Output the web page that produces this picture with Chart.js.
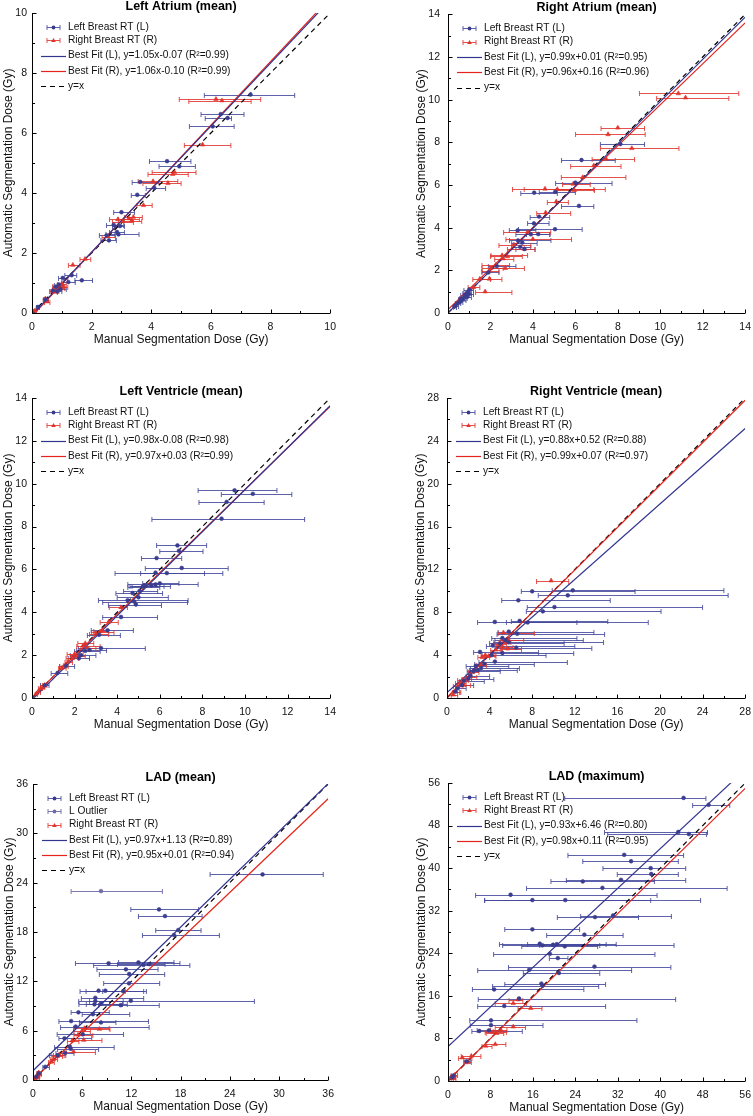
<!DOCTYPE html>
<html>
<head>
<meta charset="utf-8">
<script src="https://cdn.jsdelivr.net/npm/chart.js@4.4.1/dist/chart.umd.min.js"></script>
<style>
body { margin: 0; background: #fff; width: 753px; height: 1116px; position: relative; overflow: hidden; }
canvas { position: absolute; }
</style>
</head>
<body>
<canvas id="la"></canvas>
<canvas id="ra"></canvas>
<canvas id="lv"></canvas>
<canvas id="rv"></canvas>
<canvas id="ladMean"></canvas>
<canvas id="ladMax"></canvas>
<script>
// each point: [manual dose, automatic dose, manual lower, manual upper]
var laLeft = [[7.33,7.28,5.78,8.81],[6.33,6.63,5.67,7.11],[6.56,6.5,5.81,6.69],[6.06,6.22,5.28,6.78],
  [4.53,5.06,3.94,5.33],[4.94,4.89,4.26,5.48],[3.63,4.37,3.36,4.26],[4.1,4.17,3.83,4.48],[3.53,3.94,3.33,3.8],
  [3.0,3.36,2.74,3.44],[2.74,2.94,2.5,3.08],[2.95,2.9,2.7,3.1],[2.85,2.7,2.6,3.1],[2.9,2.62,2.48,3.59],
  [2.5,2.59,2.26,2.78],[2.58,2.42,2.31,2.83],[1.67,1.09,1.44,2.03],[1.33,1.26,1.1,1.5],[1.03,1.17,0.89,1.2],
  [1.22,1.03,1.0,1.45],[0.9,0.95,0.75,1.05],[0.8,0.88,0.7,0.95],[0.95,0.8,0.8,1.15],[0.7,0.75,0.6,0.85],
  [0.85,0.72,0.72,1.0],[0.45,0.45,0.38,0.55],[0.2,0.2,0.15,0.25]];
var laRight = [[6.17,7.13,4.94,7.67],[6.37,7.08,5.26,7.35],[5.72,5.61,5.11,6.67],[4.78,4.69,4.03,5.5],
  [4.72,4.63,3.89,5.24],[4.06,4.39,3.56,4.89],[4.56,4.33,3.72,5.0],[3.74,3.59,3.52,4.03],[2.88,3.12,2.6,3.3],
  [3.25,3.15,2.9,3.6],[3.4,3.2,3.1,3.7],[3.05,3.05,2.7,3.4],[3.35,3.08,3.0,3.68],[2.55,2.55,2.35,2.8],
  [1.78,1.8,1.61,1.97],[1.37,1.6,1.22,1.61],[1.0,0.98,0.85,1.15],[0.9,0.9,0.7,1.1],[0.95,0.85,0.75,1.1],
  [1.05,0.88,0.9,1.2],[0.7,0.75,0.6,0.9],[0.75,0.7,0.65,0.85],[0.85,0.8,0.7,1.0],[0.45,0.48,0.38,0.55],
  [0.5,0.38,0.42,0.6],[0.1,0.08,0.05,0.15]];
var laFitL = [[0,-0.07],[10,10.43]];
var laFitR = [[0,-0.10],[10,10.50]];

var raLeft = [[8.12,7.92,7.18,9.26],[6.29,7.17,5.35,7.88],[6.0,6.11,5.07,7.73],[4.06,5.64,3.43,5.15],
  [5.05,5.68,4.3,6.0],[6.17,5.02,5.35,6.87],[4.29,4.52,3.87,4.79],[4.05,4.2,3.75,4.76],[5.04,3.93,3.32,6.32],
  [3.28,3.87,2.89,4.14],[3.9,3.69,3.2,4.8],[4.25,3.7,3.7,4.8],[3.5,3.3,3.0,4.2],[3.4,3.1,3.0,3.9],
  [3.6,3.0,3.2,4.1],[3.3,3.4,2.9,4.85],[2.3,2.2,1.9,3.2],[1.9,1.9,1.6,2.4],[1.0,1.1,0.75,1.2],
  [0.9,0.95,0.7,1.1],[0.8,0.85,0.6,1.0],[0.7,0.7,0.55,0.9],[0.65,0.6,0.5,0.85],[0.55,0.5,0.45,0.7],
  [0.45,0.45,0.35,0.6],[0.35,0.35,0.3,0.5],[0.9,0.75,0.75,1.1],[1.0,0.9,0.85,1.2],[0.6,0.65,0.5,0.8],
  [0.3,0.3,0.25,0.4]];
var raRight = [[10.85,10.29,9.02,13.7],[11.19,10.09,9.83,13.23],[8.0,8.68,7.21,9.26],[7.54,8.37,6.01,9.29],
  [8.66,7.72,7.18,10.88],[7.45,7.22,6.79,8.79],[6.87,6.91,5.78,8.15],[6.35,6.36,5.34,8.38],[5.9,6.05,5.4,6.7],
  [4.57,5.82,3.59,6.87],[5.15,5.8,3.04,7.41],[5.95,5.75,5.1,6.9],[5.1,5.22,4.68,5.67],[4.6,4.7,4.18,5.78],
  [3.75,3.8,2.62,4.84],[4.0,3.46,2.73,5.82],[3.1,3.2,2.4,3.9],[3.6,3.0,2.8,4.1],[2.55,2.7,2.03,3.75],
  [2.8,2.65,2.0,3.5],[2.6,2.55,2.2,3.1],[2.25,2.25,1.6,2.9],[2.0,2.1,1.6,2.6],[2.7,2.1,2.0,3.6],
  [1.95,1.95,1.6,2.4],[1.5,1.6,1.17,2.0],[1.95,1.6,1.5,2.54],[1.75,1.0,1.3,3.01],[1.2,1.2,0.95,1.5]];
var raFitL = [[0,0.01],[14,13.87]];
var raFitR = [[0,0.16],[14,13.60]];

var lvLeft = [[9.51,9.69,7.8,11.5],[10.37,9.53,8.89,12.2],[9.14,9.15,7.84,10.9],[8.9,8.37,5.63,12.8],
  [6.83,7.12,5.85,8.2],[6.9,6.87,6.0,8.03],[5.85,6.53,5.14,7.03],[7.03,6.07,5.32,9.21],[6.33,5.83,3.9,8.96],
  [5.8,5.85,5.1,8.1],[6.0,5.35,5.2,6.9],[5.3,5.25,4.6,6.2],[5.6,5.25,4.7,6.5],[5.2,5.2,4.5,6.0],
  [5.8,5.3,4.5,7.8],[4.72,4.9,3.94,6.13],[5.05,5.0,4.3,5.9],[5.0,4.7,4.0,6.4],[4.49,4.56,3.12,7.33],
  [4.8,4.5,3.32,7.3],[4.88,4.36,3.59,6.08],[4.18,3.78,3.32,5.89],[3.55,3.16,2.78,4.76],[3.15,2.95,2.6,4.15],
  [3.24,2.33,2.18,5.32],[2.7,2.25,2.1,3.5],[2.5,2.2,2.0,3.2],[2.3,2.0,1.8,3.0],[2.2,1.85,1.7,2.7],
  [1.2,1.17,0.9,1.68],[1.6,1.5,1.3,2.0],[0.6,0.6,0.4,0.8]];
var lvRight = [[4.18,4.23,3.63,4.48],[3.6,3.55,3.2,4.05],[3.2,3.1,2.8,3.85],[3.0,3.0,2.7,3.6],
  [3.3,3.15,2.9,3.6],[2.5,2.55,2.15,2.9],[2.4,2.45,2.1,3.2],[2.6,2.35,2.3,3.0],[2.0,2.05,1.65,2.4],
  [2.1,1.95,1.8,2.5],[1.9,1.85,1.6,2.2],[1.7,1.7,1.55,1.9],[1.5,1.5,1.3,1.7],[1.4,1.4,1.25,1.6],
  [0.6,0.6,0.5,0.7],[0.5,0.5,0.4,0.6],[0.4,0.45,0.3,0.5],[0.3,0.3,0.25,0.4],[0.2,0.2,0.15,0.25]];
var lvFitL = [[0,-0.08],[14,13.64]];
var lvFitR = [[0,0.03],[14,13.61]];

var rvLeft = [[8.0,9.96,6.98,17.66],[11.81,10.05,9.88,26.0],[11.34,9.58,8.57,26.4],[6.7,9.12,5.14,15.33],
  [10.09,8.49,7.54,24.0],[9.0,8.09,7.45,20.1],[4.49,7.1,2.87,12.2],[6.82,7.2,6.04,15.1],[7.57,7.05,5.58,18.9],
  [5.8,6.2,4.8,13.8],[6.6,6.0,4.7,14.8],[5.2,5.6,4.2,12.2],[5.5,5.4,4.5,12.8],[5.8,5.2,4.4,14.7],
  [5.0,5.1,4.0,11.0],[4.3,4.9,3.7,12.0],[6.5,4.7,4.5,13.6],[3.1,4.3,2.5,8.6],[5.2,4.2,4.2,11.9],
  [4.2,4.0,3.3,9.3],[4.5,3.4,3.0,11.3],[3.5,3.2,2.6,8.2],[2.7,3.0,1.8,5.8],[3.2,2.8,2.2,6.8],
  [2.9,2.6,2.1,6.6],[2.5,2.5,1.9,5.0],[2.2,2.1,1.8,4.0],[2.0,1.8,1.6,4.4],[1.6,1.6,1.2,3.5],
  [1.4,1.2,1.0,2.5],[1.0,0.9,0.8,1.8],[0.8,0.6,0.6,1.2]];
var rvRight = [[9.78,10.95,8.41,11.43],[5.3,6.1,4.8,8.2],[5.8,5.4,5.0,7.2],[5.5,5.2,4.9,6.0],
  [4.8,5.0,4.4,5.6],[5.7,4.6,5.0,7.0],[5.2,4.8,4.6,6.2],[4.6,4.5,4.1,5.2],[3.6,4.0,3.2,4.5],
  [3.3,3.8,2.9,4.0],[3.9,3.9,3.5,4.6],[3.2,3.1,2.8,3.7],[2.4,2.4,2.0,3.0],[2.2,2.0,1.8,2.8],
  [1.8,1.8,1.4,2.3],[1.5,1.7,1.0,2.0],[1.2,1.4,0.8,1.8],[1.0,1.1,0.6,1.5],[0.8,0.6,0.5,1.3],
  [0.6,0.3,0.4,1.0],[1.6,1.2,1.2,2.2]];
var rvFitL = [[0,0.52],[28,25.16]];
var rvFitR = [[0,0.07],[28,27.79]];

var ladMeanLeft = [[28.0,25.0,21.6,35.4],[15.37,20.75,11.93,20.2],[16.1,19.94,12.86,20.63],
  [17.72,18.24,14.97,20.5],[17.2,17.63,13.35,22.73],[9.22,14.19,5.18,17.92],[12.86,14.3,10.44,17.2],
  [13.47,14.0,7.4,19.13],[14.2,14.1,10.3,16.1],[11.33,13.46,7.8,15.25],[11.73,12.89,8.09,16.06],
  [11.7,11.76,8.62,15.45],[8.0,10.86,5.74,13.83],[8.82,10.86,6.47,11.25],[11.0,10.8,8.5,13.5],
  [7.6,10.0,5.9,13.5],[11.93,9.65,5.58,27.0],[7.6,9.6,6.9,11.0],[7.5,9.2,5.6,10.9],[10.7,9.1,8.0,15.4],
  [8.3,9.3,6.5,11.5],[5.54,8.23,4.65,9.3],[7.3,8.0,6.0,11.8],[4.65,7.17,3.16,14.08],[8.29,7.0,5.66,10.11],
  [5.2,6.5,3.36,14.16],[6.07,5.55,2.95,11.04],[3.84,5.07,3.16,7.16],[4.5,4.05,2.63,9.9],[4.6,3.8,3.0,8.0],
  [3.9,3.3,2.8,5.0],[3.0,3.0,2.0,4.0],[1.5,1.6,1.2,2.0],[0.7,0.8,0.5,1.0],[0.4,0.4,0.3,0.6]];
var ladMeanOutlier = [[8.29,22.98,4.65,15.78]];
var ladMeanRight = [[6.27,6.28,4.94,9.3],[8.09,6.2,6.39,9.39],[6.0,6.0,5.0,7.0],[6.19,4.86,4.77,8.41],
  [4.94,3.45,4.05,7.61],[5.5,5.5,5.0,7.3],[4.8,4.8,4.2,5.6],[3.2,3.1,2.5,3.8],[3.0,2.9,2.3,3.6],
  [2.5,2.5,2.1,3.0],[2.2,2.2,1.9,2.6],[0.8,0.7,0.6,1.0],[0.7,0.9,0.5,1.0],[0.5,0.5,0.4,0.7],
  [0.3,0.3,0.2,0.4],[0.6,0.4,0.4,0.8]];
var ladMeanFitL = [[0,1.13],[36,36.05]];
var ladMeanFitR = [[0,0.01],[36,34.21]];

var ladMaxLeft = [[44.4,53.2,22.0,48.6],[49.1,51.9,46.1,53.1],[43.4,46.8,29.5,48.9],[45.4,46.4,30.1,48.7],
  [33.2,42.5,22.6,44.4],[34.5,41.3,25.4,43.4],[38.2,40.0,29.2,44.8],[38.3,38.9,31.9,43.4],
  [32.6,37.8,22.3,44.8],[25.4,37.5,19.4,38.9],[29.1,36.3,14.8,52.6],[11.8,35.0,5.2,39.4],
  [15.9,34.0,6.9,38.2],[22.1,34.0,6.9,47.6],[27.7,30.8,20.6,35.9],[31.1,31.1,25.0,42.1],
  [15.9,28.5,10.7,24.8],[25.7,27.5,18.6,33.0],[17.3,25.8,9.7,31.7],[19.8,25.6,10.3,42.6],
  [22.0,25.3,13.9,28.2],[17.8,25.5,17.3,28.6],[20.5,25.7,15.0,29.8],[19.2,23.9,8.6,39.0],
  [20.7,23.1,19.1,22.6],[27.6,21.5,11.4,42.0],[15.3,20.9,5.6,34.6],[20.9,20.3,14.2,28.6],
  [17.6,18.3,10.7,29.7],[17.8,17.9,8.4,28.4],[8.7,17.2,4.6,25.6],[13.4,15.5,5.7,42.9],
  [10.6,14.1,5.6,29.7],[8.1,11.4,4.1,35.6],[8.1,10.5,4.2,17.9],[5.9,9.4,4.5,14.0],[7.7,9.5,5.5,9.9],
  [3.5,3.7,3.0,4.2],[1.0,1.0,0.6,1.4],[0.8,0.7,0.5,1.1]];
var ladMaxRight = [[13.2,15.3,11.5,14.1],[12.3,14.6,8.9,14.8],[15.6,13.7,13.2,17.7],[12.3,10.2,8.9,14.6],
  [8.5,9.2,7.0,11.0],[9.2,9.0,7.2,10.5],[10.0,9.5,8.0,11.1],[8.9,6.9,7.1,10.9],[7.1,6.6,6.4,8.3],
  [4.4,4.7,2.5,6.2],[2.7,4.4,2.0,4.5],[3.7,3.5,3.0,4.4],[1.2,1.1,0.6,1.8],[0.9,0.8,0.5,1.4],
  [1.0,0.5,0.6,1.5],[0.5,0.6,0.2,1.0]];
var ladMaxFitL = [[0,6.46],[56,58.54]];
var ladMaxFitR = [[0,0.11],[56,55.0]];

var FONT = '"Liberation Sans", Arial, Helvetica, sans-serif';
var BLUE = '#3a3d8f', BLUE_BAR = 'rgba(66,70,156,0.85)';
var PURPLE = '#6d6aa6', PURPLE_BAR = 'rgba(109,106,166,0.9)';
var RED = '#e1342b', RED_BAR = 'rgba(224,52,43,0.85)';
var FIT_BLUE = '#33348f', FIT_RED = '#e3241c';

function pts(arr) {
    return arr.map(function (p) { return {x: p[0], y: p[1]}; });
}

function errSet(label, arr, color, barColor, style) {
    return {
        label: label, data: pts(arr), kind: 'err',
        lo: arr.map(function (p) { return p[2]; }),
        hi: arr.map(function (p) { return p[3]; }),
        barColor: barColor, pointStyle: style,
        pointRadius: style == 'triangle' ? 2.6 : 1.9,
        backgroundColor: color, borderColor: color, borderWidth: 0.6,
        order: 0
    };
}

function lineSet(label, arr, color, dash) {
    return {
        label: label, data: pts(arr), kind: dash ? 'dash' : 'line',
        type: 'line', showLine: true, pointRadius: 0,
        borderColor: color, borderWidth: 1.2, borderDash: dash ? [5, 4] : [],
        fill: false, order: 1
    };
}

// horizontal error bars, drawn under the markers
var errorBars = {
    id: 'errorBars',
    beforeDatasetsDraw: function (chart) {
        var ctx = chart.ctx, xs = chart.scales.x, ys = chart.scales.y;
        chart.data.datasets.forEach(function (ds) {
            if (!ds.lo) return;
            ctx.save();
            ctx.strokeStyle = ds.barColor;
            ctx.lineWidth = 1;
            ds.data.forEach(function (p, j) {
                var y = Math.round(ys.getPixelForValue(p.y)) + 0.5;
                var x1 = xs.getPixelForValue(ds.lo[j]), x2 = xs.getPixelForValue(ds.hi[j]);
                ctx.beginPath();
                ctx.moveTo(x1, y); ctx.lineTo(x2, y);
                ctx.moveTo(x1, y - 2.5); ctx.lineTo(x1, y + 2.5);
                ctx.moveTo(x2, y - 2.5); ctx.lineTo(x2, y + 2.5);
                ctx.stroke();
            });
            ctx.restore();
        });
    }
};

// axes lines, inward ticks, title and the legend box
var decor = {
    id: 'decor',
    afterDraw: function (chart) {
        var ctx = chart.ctx, a = chart.chartArea, xs = chart.scales.x, ys = chart.scales.y;
        var opt = chart.options.plugins.decor;
        ctx.save();
        ctx.strokeStyle = '#000';
        ctx.lineWidth = 1;
        ctx.beginPath();
        var bx = Math.round(a.left) + 0.5, by = Math.round(a.bottom) + 0.5;
        ctx.moveTo(bx, Math.round(a.top));
        ctx.lineTo(bx, by);
        ctx.lineTo(Math.round(a.right), by);
        var half = opt.step / 2;
        for (var i = 0; i * half <= opt.max + 1e-9; i++) {
            var len = i % 2 == 0 ? 4 : 2.5;
            var px = Math.round(xs.getPixelForValue(i * half)) + 0.5;
            ctx.moveTo(px, by); ctx.lineTo(px, by - len);
            var py = Math.round(ys.getPixelForValue(i * half)) + 0.5;
            ctx.moveTo(bx, py); ctx.lineTo(bx + len, py);
        }
        ctx.stroke();

        ctx.fillStyle = '#000';
        ctx.font = 'bold 12.5px ' + FONT;
        ctx.textAlign = 'center';
        ctx.textBaseline = 'alphabetic';
        ctx.fillText(opt.title, (a.left + a.right) / 2, a.top - 3);

        // legend
        ctx.font = '10.2px ' + FONT;
        ctx.textAlign = 'left';
        ctx.textBaseline = 'middle';
        var y = a.top + 14, left = a.left;
        var sets = chart.data.datasets;
        sets.forEach(function (ds, k) {
            var yy = Math.round(y) + 0.5;
            if (ds.kind == 'err') {
                ctx.strokeStyle = ds.barColor;
                ctx.lineWidth = 1;
                ctx.setLineDash([]);
                ctx.beginPath();
                ctx.moveTo(left + 15, yy); ctx.lineTo(left + 28, yy);
                ctx.moveTo(left + 15, yy - 2.5); ctx.lineTo(left + 15, yy + 2.5);
                ctx.moveTo(left + 28, yy - 2.5); ctx.lineTo(left + 28, yy + 2.5);
                ctx.stroke();
                ctx.fillStyle = ds.backgroundColor;
                ctx.beginPath();
                if (ds.pointStyle == 'triangle') {
                    ctx.moveTo(left + 21.5, yy - 2.6);
                    ctx.lineTo(left + 23.8, yy + 1.5);
                    ctx.lineTo(left + 19.2, yy + 1.5);
                    ctx.closePath();
                } else {
                    ctx.arc(left + 21.5, yy, 1.9, 0, Math.PI * 2);
                }
                ctx.fill();
            } else {
                ctx.strokeStyle = ds.borderColor;
                ctx.lineWidth = 1.2;
                ctx.setLineDash(ds.kind == 'dash' ? [5, 4] : []);
                ctx.beginPath();
                ctx.moveTo(left + 9, yy); ctx.lineTo(left + 34, yy);
                ctx.stroke();
                ctx.setLineDash([]);
            }
            ctx.fillStyle = '#111';
            ctx.fillText(ds.label, left + 36, y);
            var next = sets[k + 1];
            y += (ds.kind == 'err' && next && next.kind == 'err') ? 13.3 : 15.3;
        });
        ctx.restore();
    }
};

function makeChart(id, box, title, max, step, sets) {
    var canvas = document.getElementById(id);
    var padTop = Math.min(20, box.T);
    var padRight = 12, axisH = 34;
    canvas.width = box.wy + box.W + padRight;
    canvas.height = padTop + box.H + axisH;
    canvas.style.left = (box.L - box.wy) + 'px';
    canvas.style.top = (box.T - padTop) + 'px';
    return new Chart(canvas, {
        type: 'scatter',
        data: {datasets: sets},
        options: {
            responsive: false,
            animation: false,
            layout: {padding: {top: padTop, right: padRight, left: 0, bottom: 0}},
            plugins: {
                legend: {display: false},
                tooltip: {enabled: false},
                decor: {title: title, max: max, step: step}
            },
            scales: {
                x: {
                    type: 'linear', min: 0, max: max,
                    ticks: {stepSize: step, padding: 8, color: '#111', maxRotation: 0, autoSkip: false,
                        font: {size: 10.5, family: FONT}},
                    grid: {display: false, drawTicks: false},
                    border: {display: false},
                    title: {display: true, text: 'Manual Segmentation Dose (Gy)', color: '#111',
                        font: {size: 12, family: FONT}, padding: {top: 0, bottom: 0}},
                    afterFit: function (s) { s.height = axisH; }
                },
                y: {
                    type: 'linear', min: 0, max: max,
                    ticks: {stepSize: step, padding: box.tp, color: '#111', autoSkip: false,
                        font: {size: 10.5, family: FONT}},
                    grid: {display: false, drawTicks: false},
                    border: {display: false},
                    title: {display: true, text: 'Automatic Segmentation Dose (Gy)', color: '#111',
                        font: {size: 12, family: FONT}, padding: {top: box.yt, bottom: 0}},
                    afterFit: function (s) { s.width = box.wy; }
                }
            }
        },
        plugins: [errorBars, decor]
    });
}

var leftCol = {L: 32, wy: 32, W: 300, tp: 5, yt: 1};
var rightCol = {L: 448, wy: 38, W: 299, tp: 8, yt: 4};
function at(col, T, H, extra) {
    var b = {L: col.L, wy: col.wy, W: col.W, tp: col.tp, yt: col.yt, T: T, H: H};
    if (extra) for (var k in extra) b[k] = extra[k];
    return b;
}

makeChart('la', at(leftCol, 13, 300), 'Left Atrium (mean)', 10, 2, [
    errSet('Left Breast RT (L)', laLeft, BLUE, BLUE_BAR, 'circle'),
    errSet('Right Breast RT (R)', laRight, RED, RED_BAR, 'triangle'),
    lineSet('Best Fit (L), y=1.05x-0.07 (R²=0.99)', laFitL, FIT_BLUE),
    lineSet('Best Fit (R), y=1.06x-0.10 (R²=0.99)', laFitR, FIT_RED),
    lineSet('y=x', [[0, 0], [10, 10]], '#000', true)
]);
makeChart('ra', at(rightCol, 13, 300), 'Right Atrium (mean)', 14, 2, [
    errSet('Left Breast RT (L)', raLeft, BLUE, BLUE_BAR, 'circle'),
    errSet('Right Breast RT (R)', raRight, RED, RED_BAR, 'triangle'),
    lineSet('Best Fit (L), y=0.99x+0.01 (R²=0.95)', raFitL, FIT_BLUE),
    lineSet('Best Fit (R), y=0.96x+0.16 (R²=0.96)', raFitR, FIT_RED),
    lineSet('y=x', [[0, 0], [14, 14]], '#000', true)
]);
makeChart('lv', at(leftCol, 398, 300), 'Left Ventricle (mean)', 14, 2, [
    errSet('Left Breast RT (L)', lvLeft, BLUE, BLUE_BAR, 'circle'),
    errSet('Right Breast RT (R)', lvRight, RED, RED_BAR, 'triangle'),
    lineSet('Best Fit (L), y=0.98x-0.08 (R²=0.98)', lvFitL, FIT_BLUE),
    lineSet('Best Fit (R), y=0.97x+0.03 (R²=0.99)', lvFitR, FIT_RED),
    lineSet('y=x', [[0, 0], [14, 14]], '#000', true)
]);
makeChart('rv', at(rightCol, 398, 300, {L: 447, W: 300}), 'Right Ventricle (mean)', 28, 4, [
    errSet('Left Breast RT (L)', rvLeft, BLUE, BLUE_BAR, 'circle'),
    errSet('Right Breast RT (R)', rvRight, RED, RED_BAR, 'triangle'),
    lineSet('Best Fit (L), y=0.88x+0.52 (R²=0.88)', rvFitL, FIT_BLUE),
    lineSet('Best Fit (R), y=0.99x+0.07 (R²=0.97)', rvFitR, FIT_RED),
    lineSet('y=x', [[0, 0], [28, 28]], '#000', true)
]);
makeChart('ladMean', at(leftCol, 784, 296, {L: 33, W: 297}), 'LAD (mean)', 36, 6, [
    errSet('Left Breast RT (L)', ladMeanLeft, BLUE, BLUE_BAR, 'circle'),
    errSet('L Outlier', ladMeanOutlier, PURPLE, PURPLE_BAR, 'circle'),
    errSet('Right Breast RT (R)', ladMeanRight, RED, RED_BAR, 'triangle'),
    lineSet('Best Fit (L), y=0.97x+1.13 (R²=0.89)', ladMeanFitL, FIT_BLUE),
    lineSet('Best Fit (R), y=0.95x+0.01 (R²=0.94)', ladMeanFitR, FIT_RED),
    lineSet('y=x', [[0, 0], [36, 36]], '#000', true)
]);
makeChart('ladMax', at(rightCol, 783, 298), 'LAD (maximum)', 56, 8, [
    errSet('Left Breast RT (L)', ladMaxLeft, BLUE, BLUE_BAR, 'circle'),
    errSet('Right Breast RT (R)', ladMaxRight, RED, RED_BAR, 'triangle'),
    lineSet('Best Fit (L), y=0.93x+6.46 (R²=0.80)', ladMaxFitL, FIT_BLUE),
    lineSet('Best Fit (R), y=0.98x+0.11 (R²=0.95)', ladMaxFitR, FIT_RED),
    lineSet('y=x', [[0, 0], [56, 56]], '#000', true)
]);
</script>
</body>
</html>
